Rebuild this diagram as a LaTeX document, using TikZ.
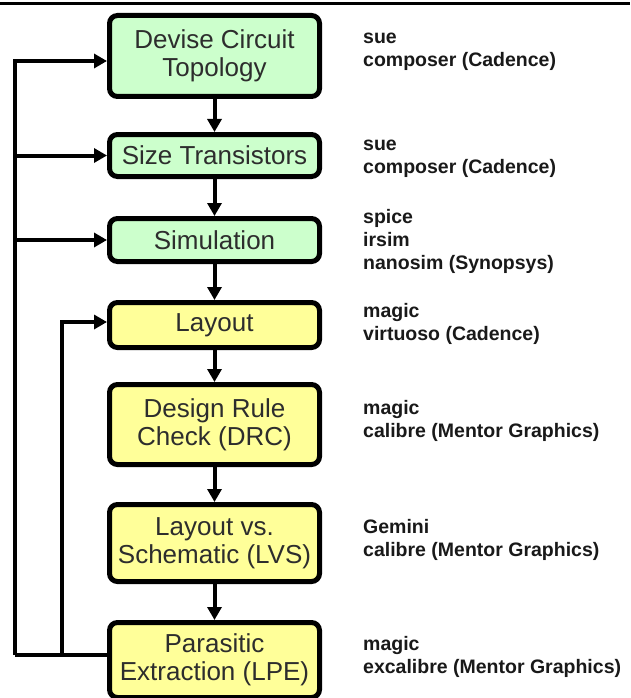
\documentclass[tikz,border=0pt]{standalone}
\usepackage{fontspec}
\setmainfont{Liberation Sans}
\usetikzlibrary{arrows.meta}
\definecolor{stepgreen}{RGB}{204,255,204}
\definecolor{stepyellow}{RGB}{255,255,153}
\definecolor{ink}{RGB}{45,45,45}
\begin{document}
\begin{tikzpicture}[x=1pt,y=-1pt,
  flowbox/.style={draw=black, line width=5pt, rounded corners=8pt,
    minimum width=210pt, inner sep=0pt, align=center, text=ink,
    font=\fontsize{26}{28}\selectfont},
  greenbox/.style={flowbox, fill=stepgreen},
  yellowbox/.style={flowbox, fill=stepyellow},
  wire/.style={line width=4pt, draw=black},
  arr/.style={wire, -{Triangle[length=13pt,width=14pt]}},
  toollist/.style={anchor=west, inner sep=0pt, align=left, text=black!90,
    font=\bfseries\fontsize{19.5}{23}\selectfont}]
\useasboundingbox (0,0) rectangle (630,698);
\fill[white] (0,0) rectangle (630,698);

% rule across the top
\draw[line width=2.5pt] (0,3.5) -- (630,3.5);

% design steps
\node[greenbox, minimum height=81pt] (b1) at (214.5,56) {Devise Circuit\\Topology};
\node[greenbox, minimum height=42pt] (b2) at (214.5,155.5) {Size Transistors};
\node[greenbox, minimum height=43pt] (b3) at (214.5,240) {Simulation};
\node[yellowbox, minimum height=45pt] (b4) at (214.5,325) {Layout};
\node[yellowbox, minimum height=80pt] (b5) at (214.5,424.5) {Design Rule\\Check (DRC)};
\node[yellowbox, minimum height=77pt] (b6) at (214.5,543) {Layout vs.\\Schematic (LVS)};
\node[yellowbox, minimum height=75pt] (b7) at (214.5,660) {Parasitic\\Extraction (LPE)};

% tools for each step
\node[toollist] (t1) at (363,52) {sue\\composer (Cadence)};
\node[toollist] (t2) at (363,158.5) {sue\\composer (Cadence)};
\node[toollist] (t3) at (363,241) {spice\\irsim\\nanosim (Synopsys)};
\node[toollist] (t4) at (363,324) {magic\\virtuoso (Cadence)};
\node[toollist] (t5) at (363,420.5) {magic\\calibre (Mentor Graphics)};
\node[toollist] (t6) at (363,540) {Gemini\\calibre (Mentor Graphics)};
\node[toollist] (t7) at (363,656.5) {magic\\excalibre (Mentor Graphics)};

% forward flow
\draw[arr] (b1) -- (b2);
\draw[arr] (b2) -- (b3);
\draw[arr] (b3) -- (b4);
\draw[arr] (b4) -- (b5);
\draw[arr] (b5) -- (b6);
\draw[arr] (b6) -- (b7);

% feedback loops
\coordinate (outer) at (15,655);
\coordinate (inner) at (62,655);
\draw[wire] ([yshift=5pt]b7.west) -- (outer);
\draw[arr] (outer) |- ([yshift=-5pt]b1.west);
\draw[arr] (outer |- b2.west) -- (b2.west);
\draw[arr] (outer |- b3.west) -- (b3.west);
\draw[arr] (inner) |- ([yshift=3pt]b4.west);
\end{tikzpicture}
\end{document}
